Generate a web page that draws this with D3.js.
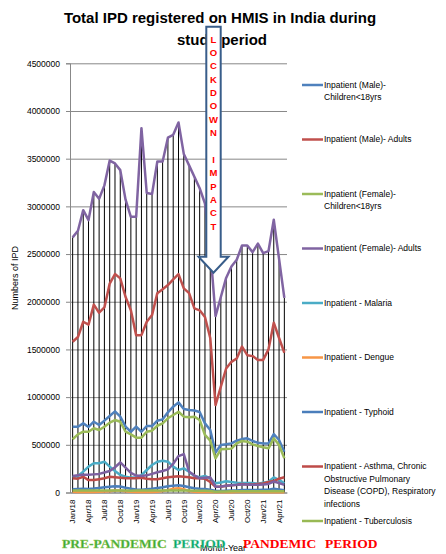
<!DOCTYPE html>
<html>
<head>
<meta charset="utf-8">
<script src="https://cdn.jsdelivr.net/npm/d3@7"></script>
<style>
  body { margin: 0; background: #fff; }
  svg { display: block; font-family: 'Liberation Sans', Arial, sans-serif; }
</style>
</head>
<body>
<svg width="446" height="554"></svg>
<script>
'use strict';

// month categories, Jan/18 .. May/21
var months = ['Jan/18','Feb/18','Mar/18','Apr/18','May/18','Jun/18','Jul/18','Aug/18','Sep/18','Oct/18','Nov/18','Dec/18',
  'Jan/19','Feb/19','Mar/19','Apr/19','May/19','Jun/19','Jul/19','Aug/19','Sep/19','Oct/19','Nov/19','Dec/19',
  'Jan/20','Feb/20','Mar/20','Apr/20','May/20','Jun/20','Jul/20','Aug/20','Sep/20','Oct/20','Nov/20','Dec/20',
  'Jan/21','Feb/21','Mar/21','Apr/21','May/21'];

var monthTicks = ['Jan/18','Apr/18','Jul/18','Oct/18','Jan/19','Apr/19','Jul/19','Oct/19','Jan/20','Apr/20','Jul/20','Oct/20','Jan/21','Apr/21'];
var yTicks = [0, 500000, 1000000, 1500000, 2000000, 2500000, 3000000, 3500000, 4000000, 4500000];

var maleChildren = [690000,690000,725000,687000,742000,708000,753000,802000,851000,795000,690000,637000,
  690000,637000,697000,697000,753000,767000,841000,900000,945000,875000,865000,860000,
  844000,725000,655000,420000,498000,505000,515000,543000,560000,568000,540000,522000,
  515000,515000,613000,550000,428000];
var maleAdults = [1580000,1630000,1790000,1760000,1970000,1885000,1940000,2190000,2290000,2245000,2050000,1910000,
  1650000,1650000,1790000,1860000,2090000,2130000,2175000,2235000,2290000,2140000,2090000,1930000,
  1910000,1840000,1620000,917000,1110000,1300000,1370000,1405000,1530000,1440000,1430000,1390000,
  1390000,1500000,1780000,1620000,1465000];
var femaleChildren = [558000,610000,637000,637000,673000,655000,690000,732000,760000,742000,637000,610000,
  575000,575000,637000,648000,700000,725000,778000,812000,847000,795000,788000,795000,
  760000,603000,545000,358000,453000,457000,460000,515000,540000,533000,505000,487000,
  474000,463000,568000,498000,358000];
var femaleAdults = [2675000,2744000,2960000,2856000,3150000,3080000,3220000,3480000,3450000,3380000,3070000,2890000,
  2890000,3820000,3140000,3130000,3470000,3470000,3720000,3750000,3880000,3550000,3430000,3310000,
  3190000,3030000,2550000,1850000,2050000,2250000,2370000,2440000,2590000,2590000,2520000,2610000,
  2510000,2530000,2860000,2450000,2040000];
var malaria = [159000,173000,218000,271000,306000,306000,323000,271000,225000,183000,166000,156000,
  156000,183000,236000,288000,323000,333000,323000,271000,236000,253000,218000,173000,
  159000,173000,148000,96000,105000,118000,110000,103000,100000,100000,100000,93000,
  103000,112000,159000,133000,96000];
var dengue = [8000,6000,5000,5000,6000,8000,10000,14000,20000,22000,14000,8000,
  6000,5000,5000,6000,9000,15000,25000,40000,45000,35000,15000,8000,
  6000,5000,4000,2000,2000,2000,3000,4000,6000,8000,6000,4000,
  3000,2000,2000,2000,2000];
var typhoid = [35000,38000,40000,38000,42000,48000,55000,60000,65000,62000,50000,40000,
  32000,30000,35000,40000,48000,55000,65000,72000,75000,68000,55000,45000,
  40000,38000,30000,15000,15000,18000,20000,22000,25000,25000,25000,25000,
  28000,30000,40000,32000,25000];
var asthma = [150000,145000,165000,130000,130000,140000,150000,165000,160000,155000,150000,150000,
  150000,155000,145000,140000,140000,150000,160000,165000,170000,165000,160000,150000,
  150000,145000,110000,60000,60000,70000,75000,80000,90000,85000,85000,90000,
  95000,110000,120000,145000,160000];
var tuberculosis = [20000,20000,21000,20000,21000,22000,22000,21000,21000,20000,20000,19000,
  20000,20000,21000,21000,22000,22000,22000,21000,21000,20000,20000,19000,
  19000,18000,15000,9000,10000,11000,12000,13000,14000,14000,14000,13000,
  13000,14000,15000,13000,12000];
// series beyond the visible legend
var otherDisease = [173000,180000,185000,185000,190000,195000,210000,225000,265000,315000,260000,205000,
  178000,172000,180000,195000,212000,225000,243000,300000,382000,403000,218000,180000,
  149000,155000,159000,61000,62000,70000,75000,80000,85000,85000,80000,80000,
  85000,90000,115000,100000,80000];

var seriesNames = ['Inpatient (Male)- Children<18yrs','Inpatient (Male)- Adults','Inpatient (Female)- Children<18yrs',
  'Inpatient (Female)- Adults','Inpatient - Malaria','Inpatient - Dengue','Inpatient - Typhoid',
  'Inpatient - Asthma, Chronic Obstructive Pulmonary Disease (COPD), Respiratory infections',
  'Inpatient - Tuberculosis','Inpatient - Other'];
var seriesValues = [maleChildren, maleAdults, femaleChildren, femaleAdults, malaria, dengue, typhoid, asthma, tuberculosis, otherDisease];
var seriesColors = ['#4F81BD','#C0504D','#9BBB59','#8064A2','#4BACC6','#F79646','#4A7EBB','#BE4B48','#98B954','#7D60A0'];

// legend label lines (wrapped like the original)
var legendLines = [
  ['Inpatient (Male)-', 'Children<18yrs'],
  ['Inpatient (Male)- Adults'],
  ['Inpatient (Female)-', 'Children<18yrs'],
  ['Inpatient (Female)- Adults'],
  ['Inpatient - Malaria'],
  ['Inpatient - Dengue'],
  ['Inpatient - Typhoid'],
  ['Inpatient - Asthma, Chronic', 'Obstructive Pulmonary', 'Disease (COPD), Respiratory', 'infections'],
  ['Inpatient - Tuberculosis']
];

var arrowLetters = ['L','O','C','K','D','O','W','N','','I','M','P','A','C','T'];

var svg = d3.select('svg');
var margin = {top: 63.3, right: 159, bottom: 61.5, left: 70};
var width = 446 - margin.left - margin.right;
var height = 554 - margin.top - margin.bottom;

var x = d3.scaleBand().domain(months).range([0, width]).paddingInner(0);
var y = d3.scaleLinear().domain([0, 4500000]).range([height, 0]);

function px(i) { return x(months[i]) + x.bandwidth() / 2; }

var group = svg.append('g')
  .attr('transform', 'translate(' + margin.left + ',' + margin.top + ')');

/* Gridlines */
group.append('g')
  .attr('class', 'grid')
  .call(d3.axisLeft(y).tickValues(yTicks).tickSize(-width).tickFormat(''))
  .call(function(g) {
    g.select('.domain').remove();
    g.selectAll('line').attr('stroke', '#888').attr('stroke-width', 1);
  });

/* y axis */
group.append('g')
  .attr('class', 'axis axis-y')
  .call(d3.axisLeft(y).tickValues(yTicks).tickSize(4).tickPadding(6).tickFormat(d3.format('d')))
  .call(function(g) {
    g.select('.domain').attr('stroke', '#888');
    g.selectAll('line').attr('stroke', '#888');
    g.selectAll('text').attr('font-size', '8.5px').attr('fill', '#000')
      .attr('font-family', "'Liberation Sans', Arial, sans-serif");
  });

/* drop lines from the highest value down to the axis */
group.append('g')
  .selectAll('line')
  .data(months)
  .enter()
  .append('line')
  .attr('x1', function(d, i) { return px(i); })
  .attr('x2', function(d, i) { return px(i); })
  .attr('y1', function(d, i) { return y(d3.max(seriesValues, function(s) { return s[i]; })); })
  .attr('y2', height)
  .attr('stroke', '#000')
  .attr('stroke-width', 1);

/* x axis */
group.append('g')
  .attr('class', 'axis axis-x')
  .attr('transform', 'translate(0,' + height + ')')
  .call(d3.axisBottom(x).tickValues(monthTicks).tickSize(0))
  .call(function(g) {
    g.select('.domain').attr('stroke', '#888');
    g.selectAll('text')
      .attr('transform', 'rotate(-90)')
      .attr('x', -7)
      .attr('y', 0)
      .attr('dy', '0.35em')
      .style('text-anchor', 'end')
      .attr('font-size', '8px')
      .attr('fill', '#000')
      .attr('font-family', "'Liberation Sans', Arial, sans-serif");
  });

/* series lines */
var line = d3.line()
  .x(function(d, i) { return px(i); })
  .y(function(d) { return y(d); });

group.append('g')
  .selectAll('path')
  .data(seriesValues)
  .enter()
  .append('path')
  .attr('d', line)
  .attr('fill', 'none')
  .attr('stroke', function(d, i) { return seriesColors[i]; })
  .attr('stroke-width', 2.5)
  .attr('stroke-linejoin', 'round');

/* axis titles */
svg.append('text')
  .attr('transform', 'translate(18,' + (margin.top + height / 2) + ') rotate(-90)')
  .attr('text-anchor', 'middle')
  .attr('font-size', '9px')
  .text('Numbers of IPD');

svg.append('text')
  .attr('x', 223)
  .attr('y', 551)
  .attr('text-anchor', 'middle')
  .attr('font-size', '9px')
  .text('Month-Year');

/* title */
svg.append('text')
  .attr('x', 220)
  .attr('y', 23)
  .attr('text-anchor', 'middle')
  .attr('font-size', '15px')
  .attr('font-weight', 'bold')
  .text('Total IPD registered  on HMIS in India during');
svg.append('text')
  .attr('x', 222)
  .attr('y', 45)
  .attr('text-anchor', 'middle')
  .attr('font-size', '15px')
  .attr('font-weight', 'bold')
  .text('study period');

/* lockdown arrow */
svg.append('path')
  .attr('d', 'M206.3,26.7 L220.7,26.7 L220.7,256.7 L228.5,256.7 L213.5,272.7 L198.5,256.7 L206.3,256.7 Z')
  .attr('fill', '#fff')
  .attr('stroke', '#385D8A')
  .attr('stroke-width', 2);

svg.append('g')
  .selectAll('text')
  .data(arrowLetters)
  .enter()
  .append('text')
  .attr('x', 213.5)
  .attr('y', function(d, i) { return 39.3 + i * 13.37; })
  .attr('dy', '0.35em')
  .attr('text-anchor', 'middle')
  .attr('font-size', '9.5px')
  .attr('font-weight', 'bold')
  .attr('fill', '#FF0000')
  .text(function(d) { return d; });

/* legend */
var ly = d3.scalePoint().domain(d3.range(legendLines.length)).range([85, 521]);
var legend = svg.append('g')
  .selectAll('g')
  .data(legendLines)
  .enter()
  .append('g')
  .attr('transform', function(d, i) { return 'translate(302,' + ly(i) + ')'; });

legend.append('line')
  .attr('x1', 0)
  .attr('x2', 21)
  .attr('stroke', function(d, i) { return seriesColors[i]; })
  .attr('stroke-width', 2.5);

legend.append('text')
  .attr('x', 22)
  .attr('font-size', '8.5px')
  .attr('fill', '#000')
  .selectAll('tspan')
  .data(function(d) { return d; })
  .enter()
  .append('tspan')
  .attr('x', 22)
  .attr('y', function(d, i) { return i * 12.5; })
  .attr('dy', '0.35em')
  .text(function(d) { return d; });

/* period labels */
var periods = svg.append('g')
  .attr('font-family', "'Liberation Serif', 'Times New Roman', serif")
  .attr('font-weight', 'bold')
  .attr('font-size', '13.5px');
periods.append('text').attr('x', 62).attr('y', 548).attr('fill', '#3DAA3A').attr('stroke', '#9BCB59').attr('stroke-width', 0.4).text('PRE-PANDEMIC');
periods.append('text').attr('x', 173).attr('y', 548).attr('fill', '#00A86B').attr('stroke', '#8fd0a8').attr('stroke-width', 0.4).text('PERIOD');
periods.append('text').attr('x', 243).attr('y', 548).attr('fill', '#FF0000').text('PANDEMIC');
periods.append('text').attr('x', 325).attr('y', 548).attr('fill', '#FF0000').text('PERIOD');
</script>
</body>
</html>
